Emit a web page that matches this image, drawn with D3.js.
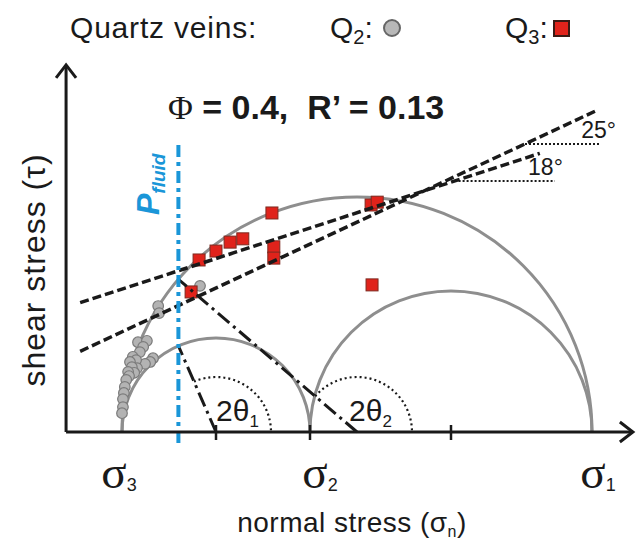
<!DOCTYPE html>
<html>
<head>
<meta charset="utf-8">
<script src="https://cdn.jsdelivr.net/npm/d3@7"></script>
<style>
  body { margin: 0; background: #fff; }
  svg { display: block; font-family: Arial, "Liberation Sans", sans-serif; }
</style>
</head>
<body>
<div class="chart"></div>
<script>
/*------------------------------- data -------------------------------*/

// principal stresses, normalised so that sigma3 = 0 and sigma1 = 1
const sigmaNames = ["3", "2", "1"];
const sigmaValues = [0, 0.4, 1];
const pFluid = 0.12;

// Q2 veins (normal stress, shear stress)
const q2Points = [
  [0.077, 0.268], [0.079, 0.253], [0.034, 0.191], [0.053, 0.194], [0.045, 0.181],
  [0.038, 0.170], [0.023, 0.160], [0.066, 0.157], [0.060, 0.149], [0.049, 0.145],
  [0.030, 0.153], [0.032, 0.136], [0.017, 0.149], [0.021, 0.138], [0.026, 0.126],
  [0.013, 0.128], [0.015, 0.119], [0.009, 0.111], [0.006, 0.096], [0.004, 0.083],
  [0.002, 0.070], [0.002, 0.053], [0.000, 0.040], [0.166, 0.311]
];

// Q3 veins
const q3Points = [
  [0.164, 0.366], [0.200, 0.385], [0.230, 0.404], [0.257, 0.411], [0.319, 0.466],
  [0.323, 0.394], [0.323, 0.370], [0.530, 0.483], [0.543, 0.489], [0.532, 0.313],
  [0.147, 0.298]
];

// failure envelopes: slope angle, common point, end of line, level of angle marker
const envelopeAngles = [25, 18];
const envelopePivot = [0.643, 0.513];
const envelopeStart = -0.089;
const envelopeEnds = [1.013, 0.889];
const markerTau = [0.613, 0.534];
const markerEnds = [1.017, 0.921];

const axisMin = -0.119, axisMax = 1.087, tauMax = 0.781;

/*------------------------------- setup -------------------------------*/

const size = { width: 639, height: 549 };
const ink = "#1a1a1a", grey = "#8e8e8e", blue = "#1a96d8";

const svg = d3.select(".chart").append("svg")
  .attr("width", size.width).attr("height", size.height);

// same pixel per unit on both axes so the circles stay round
const x = d3.scaleLinear().domain([0, 1]).range([122, 592]);
const y = d3.scaleLinear().domain([0, 1]).range([432, -38]);
const px = v => x(v) - x(0);

const [s3, s2, s1] = sigmaValues;
const mohr = [[s3, s1], [s3, s2], [s2, s1]];

/*------------------------------- circles -------------------------------*/

mohr.forEach(([a, b]) => {
  const p = d3.path();
  p.arc(x((a + b) / 2), y(0), px((b - a) / 2), Math.PI, 2 * Math.PI);
  svg.append("path").attr("d", p.toString())
    .attr("fill", "none").attr("stroke", grey).attr("stroke-width", 3);
});

/*------------------------------- points -------------------------------*/

svg.append("g").selectAll("circle")
  .data(q2Points).enter().append("circle")
  .attr("cx", d => x(d[0])).attr("cy", d => y(d[1])).attr("r", 5.3)
  .attr("fill", "#b3b3b3").attr("stroke", "#7b7b7b").attr("stroke-width", 1.2);

svg.append("g").selectAll("rect")
  .data(q3Points).enter().append("rect")
  .attr("x", d => x(d[0]) - 6).attr("y", d => y(d[1]) - 6)
  .attr("width", 12).attr("height", 12)
  .attr("fill", "#e0231b").attr("stroke", "#7d2a20").attr("stroke-width", 1);

/*------------------------------- radii + angles -------------------------------*/

[[s3, s1], [s3, s2]].forEach(([a, b], i) => {
  const c = (a + b) / 2, r = (b - a) / 2;
  const tau = Math.sqrt(r * r - (pFluid - c) * (pFluid - c));
  svg.append("line")
    .attr("x1", x(c)).attr("y1", y(0)).attr("x2", x(pFluid)).attr("y2", y(tau))
    .attr("stroke", ink).attr("stroke-width", 3)
    .attr("stroke-dasharray", "15,5,3,5");
  const phi = Math.atan2(tau, pFluid - c);
  const p = d3.path();
  p.arc(x(c), y(0), 55, -phi, 0);
  svg.append("path").attr("d", p.toString())
    .attr("fill", "none").attr("stroke", ink).attr("stroke-width", 2.2)
    .attr("stroke-dasharray", "2,3");
  const label = svg.append("text")
    .attr("x", x(c) - (i === 0 ? 8 : 0)).attr("y", 421)
    .attr("font-size", 30).attr("fill", ink).text("2θ");
  label.append("tspan").attr("dy", 6).attr("font-size", 17).text(i === 0 ? "2" : "1");
});

/*------------------------------- envelopes -------------------------------*/

envelopeAngles.forEach((a, i) => {
  const k = Math.tan(a * Math.PI / 180);
  const tauAt = s => envelopePivot[1] + k * (s - envelopePivot[0]);
  svg.append("line")
    .attr("x1", x(envelopeStart)).attr("y1", y(tauAt(envelopeStart)))
    .attr("x2", x(envelopeEnds[i])).attr("y2", y(tauAt(envelopeEnds[i])))
    .attr("stroke", ink).attr("stroke-width", 3.5)
    .attr("stroke-dasharray", "9,4");
  const sHit = envelopePivot[0] + (markerTau[i] - envelopePivot[1]) / k;
  svg.append("line")
    .attr("x1", x(sHit)).attr("y1", y(markerTau[i]))
    .attr("x2", x(markerEnds[i])).attr("y2", y(markerTau[i]))
    .attr("stroke", ink).attr("stroke-width", 2)
    .attr("stroke-dasharray", "2,2");
  svg.append("text")
    .attr("x", x(markerEnds[i]) + (i === 0 ? 16 : 8)).attr("y", y(markerTau[i]) - 6)
    .attr("text-anchor", "end").attr("font-size", 23).attr("fill", ink)
    .text(a + "°");
});

/*------------------------------- fluid pressure -------------------------------*/

svg.append("line")
  .attr("x1", x(pFluid)).attr("y1", 145).attr("x2", x(pFluid)).attr("y2", 446)
  .attr("stroke", blue).attr("stroke-width", 4)
  .attr("stroke-dasharray", "12,5,4,5");

const pLabel = svg.append("text")
  .attr("transform", `translate(${x(pFluid) - 19},215) rotate(-90)`)
  .attr("fill", blue).attr("font-weight", "bold").attr("font-style", "italic")
  .attr("font-size", 32).text("P");
pLabel.append("tspan").attr("dy", 6).attr("font-size", 19).text("fluid");

/*------------------------------- axes -------------------------------*/

svg.append("path")
  .attr("d", `M${x(axisMin)},${y(0)}H${x(axisMax)}M${x(axisMin)},${y(0)}V${y(tauMax)}`)
  .attr("fill", "none").attr("stroke", ink).attr("stroke-width", 3);
svg.append("path")
  .attr("d", `M${x(axisMax) - 13},${y(0) - 10}L${x(axisMax)},${y(0)}L${x(axisMax) - 13},${y(0) + 10}` +
             `M${x(axisMin) - 10},${y(tauMax) + 13}L${x(axisMin)},${y(tauMax)}L${x(axisMin) + 10},${y(tauMax) + 13}`)
  .attr("fill", "none").attr("stroke", ink).attr("stroke-width", 3);

const tickValues = [(s3 + s2) / 2, s2, (s2 + s1) / 2];
svg.append("g").selectAll("line")
  .data(tickValues).enter().append("line")
  .attr("x1", d => x(d)).attr("x2", d => x(d))
  .attr("y1", y(0) - 7).attr("y2", y(0) + 8)
  .attr("stroke", ink).attr("stroke-width", 2.5);

sigmaValues.forEach((v, i) => {
  const t = svg.append("text")
    .attr("x", x(v) + [-3, 10, 6][i]).attr("y", 488)
    .attr("text-anchor", "middle").attr("fill", ink);
  t.append("tspan").attr("font-family", "'Liberation Serif', 'DejaVu Serif', serif")
    .attr("font-size", 47).text("σ");
  t.append("tspan").attr("dy", 3).attr("font-size", 18).text(sigmaNames[i]);
});

const xLabel = svg.append("text")
  .attr("x", 352).attr("y", 532).attr("text-anchor", "middle")
  .attr("font-size", 28).attr("fill", ink).attr("letter-spacing", 0.5)
  .text("normal stress (σ");
xLabel.append("tspan").attr("dy", 5).attr("font-size", 16).text("n");
xLabel.append("tspan").attr("dy", -5).text(")");

svg.append("text")
  .attr("transform", "translate(45,270) rotate(-90)")
  .attr("text-anchor", "middle").attr("font-size", 32).attr("fill", ink)
  .attr("letter-spacing", 1)
  .text("shear stress (τ)");

/*------------------------------- title + legend -------------------------------*/

const title = svg.append("text").attr("x", 168).attr("y", 119)
  .attr("font-size", 34).attr("font-weight", "bold").attr("fill", ink);
title.append("tspan").attr("font-family", "'Liberation Serif', serif")
  .attr("font-weight", "normal").text("Φ");
title.append("tspan").text("\u00a0= 0.4,\u00a0\u00a0R’ = 0.13");

svg.append("text").attr("x", 70).attr("y", 38)
  .attr("font-size", 30).attr("fill", ink).attr("letter-spacing", 0.8)
  .text("Quartz veins:");

const q2Label = svg.append("text").attr("x", 330).attr("y", 38)
  .attr("font-size", 30).attr("fill", ink).text("Q");
q2Label.append("tspan").attr("dy", 6).attr("font-size", 20).text("2");
q2Label.append("tspan").attr("dy", -6).text(":");
svg.append("circle").attr("cx", 392).attr("cy", 28).attr("r", 8)
  .attr("fill", "#b8b8b8").attr("stroke", "#666").attr("stroke-width", 2);

const q3Label = svg.append("text").attr("x", 505).attr("y", 38)
  .attr("font-size", 30).attr("fill", ink).text("Q");
q3Label.append("tspan").attr("dy", 6).attr("font-size", 20).text("3");
q3Label.append("tspan").attr("dy", -6).text(":");
svg.append("rect").attr("x", 554).attr("y", 21).attr("width", 15).attr("height", 15)
  .attr("fill", "#e0231b").attr("stroke", "#3a1a14").attr("stroke-width", 2);
</script>
</body>
</html>
